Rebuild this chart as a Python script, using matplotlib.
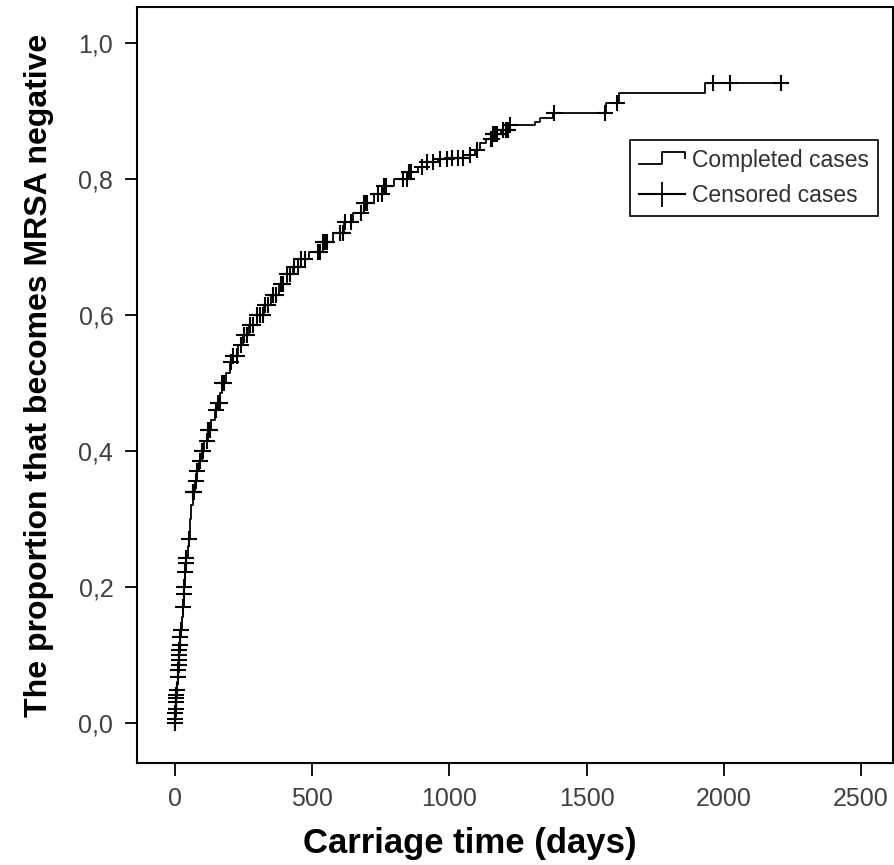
import numpy as np
import matplotlib
matplotlib.use('Agg')
import matplotlib.pyplot as plt
from matplotlib.lines import Line2D
from matplotlib.legend_handler import HandlerBase

plt.rcParams['font.family'] = ['Liberation Sans', 'DejaVu Sans']

# step curve: time (days) of each event and cumulative proportion MRSA negative after it
event_days = [0, 1, 2, 3, 4, 5, 6, 7, 9, 11, 13, 14, 15, 16, 17, 18, 20, 22, 26, 30,
              33, 35, 38, 40, 42, 47, 50, 55, 60, 66, 72, 80, 88, 98, 108, 120, 132,
              145, 157, 165, 171, 185, 200, 211, 230, 248, 270, 300, 325, 350, 380,
              408, 430, 450, 490, 539, 575, 616, 650, 688, 725, 761, 800, 849, 885,
              918, 960, 1000, 1075, 1095, 1111, 1135, 1159, 1190, 1221, 1312, 1330,
              1377, 1570, 1618, 1931]
event_prop = [0.0, 0.006, 0.015, 0.02, 0.03, 0.037, 0.041, 0.049, 0.06, 0.068, 0.078,
              0.085, 0.093, 0.10, 0.107, 0.115, 0.126, 0.137, 0.155, 0.171, 0.19, 0.20,
              0.222, 0.235, 0.243, 0.26, 0.27, 0.30, 0.32, 0.34, 0.355, 0.37, 0.385,
              0.40, 0.415, 0.43, 0.445, 0.46, 0.47, 0.485, 0.50, 0.515, 0.53, 0.54,
              0.555, 0.57, 0.585, 0.60, 0.615, 0.63, 0.645, 0.66, 0.67, 0.682, 0.693,
              0.707, 0.72, 0.736, 0.75, 0.765, 0.778, 0.79, 0.80, 0.81, 0.818, 0.825,
              0.829, 0.831, 0.835, 0.843, 0.853, 0.859, 0.866, 0.872, 0.879, 0.884,
              0.89, 0.897, 0.912, 0.926, 0.941]
last_day = 2208

# censored cases (days)
censor_days = [0, 1, 2, 3, 4, 5, 6, 7, 11, 13, 14, 15, 16, 17, 18, 20, 22, 30, 33, 35,
               38, 40, 42, 50, 66, 68, 70, 76, 80, 90, 98, 104, 118, 122, 128, 150, 157,
               164, 171, 178, 205, 211, 225, 240, 252, 262, 273, 285, 300, 310, 321, 330,
               340, 357, 370, 385, 395, 408, 420, 435, 448, 460, 475, 520, 530, 539, 548,
               555, 600, 612, 620, 640, 680, 688, 695, 700, 740, 755, 761, 770, 830, 845,
               852, 860, 900, 918, 940, 965, 991, 1010, 1030, 1050, 1075, 1100, 1150,
               1155, 1159, 1163, 1170, 1175, 1195, 1205, 1215, 1222, 1380, 1567, 1610,
               1961, 2023, 2208]

x_ticks = [0, 500, 1000, 1500, 2000, 2500]
y_ticks = [0.0, 0.2, 0.4, 0.6, 0.8, 1.0]
y_tick_labels = ['0,0', '0,2', '0,4', '0,6', '0,8', '1,0']


class HandlerStep(HandlerBase):
    def create_artists(self, legend, orig_handle, xdescent, ydescent, width, height, fontsize, trans):
        x0 = -xdescent
        y0 = -ydescent
        xs = [x0, x0 + width * 0.5, x0 + width * 0.5, x0 + width, x0 + width]
        ys = [y0 + height * 0.2, y0 + height * 0.2, y0 + height * 0.95, y0 + height * 0.95, y0 + height * 0.55]
        line = Line2D(xs, ys, color='black', lw=1.3, transform=trans)
        return [line]


fig = plt.figure(figsize=(8.95, 8.65), dpi=100)
ax = fig.add_axes([0.153, 0.118, 0.845, 0.874])

steps_x = np.append(event_days, last_day)
steps_y = np.append(event_prop, event_prop[-1])
ax.step(steps_x, steps_y, where='post', color='black', lw=1.3)

idx = np.searchsorted(event_days, censor_days, side='right') - 1
censor_y = np.array(event_prop)[idx]
ax.plot(censor_days, censor_y, ls='none', marker='+', ms=11, mew=1.5, color='black')

ax.set_xlim(-138, 2617)
ax.set_ylim(-0.059, 1.053)
ax.set_xticks(x_ticks)
ax.set_yticks(y_ticks)
ax.set_yticklabels(y_tick_labels)
ax.tick_params(axis='both', direction='out', length=9, width=1.3, labelsize=18,
               labelcolor='#404040', pad=8)
for s in ax.spines.values():
    s.set_linewidth(1.5)

ax.set_xlabel('Carriage time (days)', fontsize=25, fontweight='bold', labelpad=10)
ax.xaxis.set_label_coords(0.44, -0.085)
ax.set_ylabel('The proportion that becomes MRSA negative', fontsize=23, fontweight='bold')
ax.yaxis.set_label_coords(-0.11, 0.513)

h_comp = Line2D([], [], color='black')
h_cens = Line2D([], [], color='black', marker='+', ms=18, mew=1.3)
leg = ax.legend([h_comp, h_cens], ['Completed cases', 'Censored cases'],
                handler_map={h_comp: HandlerStep()},
                loc='upper right', bbox_to_anchor=(0.98, 0.824), fontsize=16.5,
                fancybox=False, edgecolor='black', framealpha=1,
                handlelength=2.0, handletextpad=0.3, borderpad=0.4, labelspacing=0.5,
                borderaxespad=0)
leg.get_frame().set_linewidth(1.2)
for t in leg.get_texts():
    t.set_color('#303030')

fig.savefig('out.png', dpi=100)
